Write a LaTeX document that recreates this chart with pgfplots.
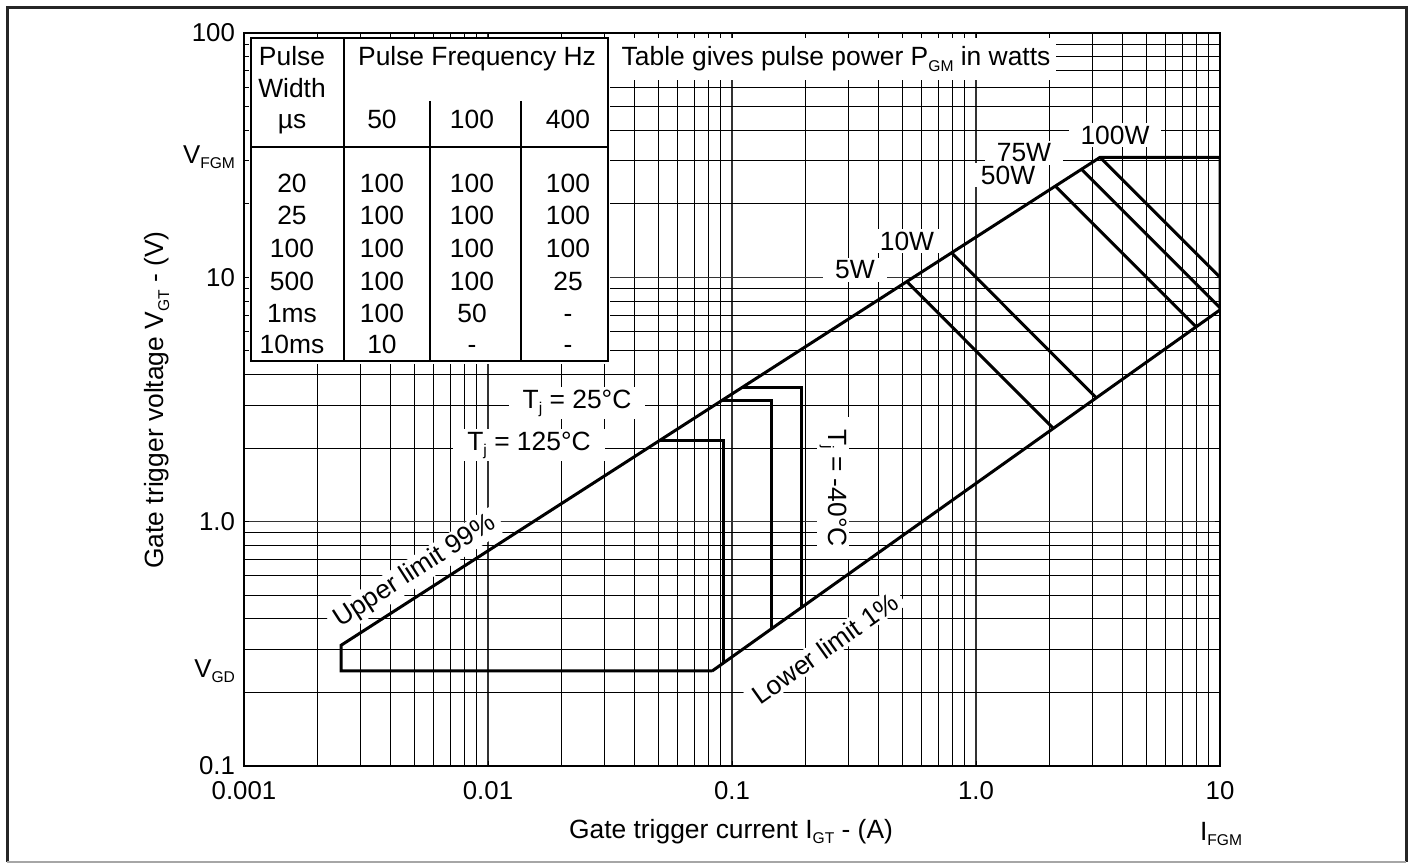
\documentclass[border=0pt]{standalone}
\usepackage{fontspec}
\setmainfont{Liberation Sans}
\usepackage{pgfplots}
\pgfplotsset{compat=1.18}
\newcommand\sub[1]{\raisebox{-2.6pt}{\fontsize{7.8}{9}\selectfont #1}}
\newcommand\fs{\fontsize{13.2}{15}\selectfont}
\newcommand\ft{\fontsize{12.9}{15}\selectfont}
\tikzset{
 curve/.style={black, line width=1.5pt, line join=miter, mark=none},
 lab/.style={fill=white, font=\fs, inner xsep=6pt, inner ysep=1.5pt},
}
\begin{document}
\begin{tikzpicture}
\begin{scope}[x=0.5pt,y=-0.5pt,shift={(-122pt,383pt)}]
\useasboundingbox (0,0) rectangle (1417,863);
\end{scope}
\begin{axis}[at={(0,0)}, anchor=south west, scale only axis, width=488pt, height=366.5pt,
 xmode=log, ymode=log, xmin=0.001, xmax=10, ymin=0.1, ymax=100,
 xtick={0.001,0.01,0.1,1,10}, xticklabels={0.001,0.01,0.1,1.0,10},
 ytick={0.1,1,10,100}, yticklabels={0.1,1.0,10,100},
 minor xtick={0.002,0.003,0.004,0.005,0.006,0.007,0.008,0.009,0.02,0.03,0.04,0.05,0.06,0.07,0.08,0.09,0.2,0.3,0.4,0.5,0.6,0.7,0.8,0.9,2,3,4,5,6,7,8,9},
 minor ytick={0.2,0.3,0.4,0.5,0.6,0.7,0.8,0.9,2,3,4,5,6,7,8,9,20,30,40,50,60,70,80,90},
 extra y ticks={31,0.245}, extra y tick labels={V\sub{FGM},V\sub{GD}},
 extra y tick style={grid=none, tick style={draw=none}},
 grid=both,
 major grid style={black!80, line width=0.8pt},
 minor grid style={black, line width=0.5pt},
 tick style={black, line width=0.5pt}, major tick length=2.5pt, minor tick length=2.5pt,
 tick label style={font=\ft},
 xticklabel style={yshift=-4pt},
 yticklabel style={xshift=-1pt},
 axis line style={black, line width=0.8pt},
]
% labels first (white boxes hide the grid)
\node[lab] at (rel axis cs:0.626,0.6767) {5W};
\node[lab] at (rel axis cs:0.6793,0.7162) {10W};
\node[lab] at (rel axis cs:0.7828,0.8063) {50W};
\node[lab] at (rel axis cs:0.7992,0.8363) {75W};
\node[lab] at (rel axis cs:0.8924,0.8609) {100W};
\node[lab, inner xsep=7pt] at (rel axis cs:0.3412,0.4952) {T\sub{j} = 25°C};
\node[lab, inner xsep=7pt] at (rel axis cs:0.292,0.4379) {T\sub{j} = 125°C};
\node[lab, rotate=-90, inner xsep=6pt] at (rel axis cs:0.6035,0.3793) {T\sub{j} = -40°C};
\node[lab, rotate=32.7, inner xsep=3pt, inner ysep=1pt] at (rel axis cs:0.1752,0.2653) {Upper limit 99\%};
\node[lab, rotate=35.4, inner xsep=3pt, inner ysep=1pt] at (rel axis cs:0.5953,0.1603) {Lower limit 1\%};
% gate characteristic area
\addplot[curve] coordinates {(0.083,0.245) (0.0025,0.245) (0.0025,0.312) (3.226,31) (10,31) (10,7.36) (0.083,0.245)};
% temperature limits
\addplot[curve] coordinates {(0.0502,2.14) (0.092,2.14) (0.092,0.2636)};
\addplot[curve] coordinates {(0.0903,3.12) (0.145,3.12) (0.145,0.3641)};
\addplot[curve] coordinates {(0.1104,3.55) (0.193,3.55) (0.193,0.4462)};
% pulse power lines
\addplot[curve] coordinates {(0.5205,9.606) (2.075,2.409)};
\addplot[curve] coordinates {(0.7938,12.598) (3.112,3.213)};
\addplot[curve] coordinates {(2.116,23.63) (7.977,6.268)};
\addplot[curve] coordinates {(2.708,27.70) (10,7.5)};
\addplot[curve] coordinates {(3.226,31) (10,10)};
\end{axis}
\begin{scope}[x=0.5pt,y=-0.5pt,shift={(-122pt,383pt)}, every node/.style={font=\fs, inner sep=0pt}]
% frame
\draw[line width=1.5pt, black!85] (7.5,862) -- (7.5,8) -- (1406,8) -- (1406,862);
\draw[line width=0.8pt, gray!70] (7.5,862) -- (1406,862);
% table
\fill[white] (249,38) rectangle (1056,80);
\fill[white] (249,38) rectangle (610,364);
\draw[line width=0.8pt] (251,38) rectangle (608,361);
\draw[line width=0.8pt] (344,38) -- (344,361);
\draw[line width=0.8pt] (430,101) -- (430,361);
\draw[line width=0.8pt] (521,101) -- (521,361);
\draw[line width=0.8pt] (251,147) -- (608,147);
\node[anchor=base] at (292,66) {Pulse};
\node[anchor=base] at (292,98) {Width};
\node[anchor=base] at (292,129) {µs};
\node[anchor=base] at (477,66) {Pulse Frequency Hz};
\node[anchor=base] at (382,129) {50};
\node[anchor=base] at (472,129) {100};
\node[anchor=base] at (568,129) {400};
\node[anchor=base] at (292,193) {20};
\node[anchor=base] at (292,225) {25};
\node[anchor=base] at (292,257) {100};
\node[anchor=base] at (292,290) {500};
\node[anchor=base] at (292,322) {1ms};
\node[anchor=base] at (292,353) {10ms};
\node[anchor=base] at (382,193) {100};
\node[anchor=base] at (382,225) {100};
\node[anchor=base] at (382,257) {100};
\node[anchor=base] at (382,290) {100};
\node[anchor=base] at (382,322) {100};
\node[anchor=base] at (382,353) {10};
\node[anchor=base] at (472,193) {100};
\node[anchor=base] at (472,225) {100};
\node[anchor=base] at (472,257) {100};
\node[anchor=base] at (472,290) {100};
\node[anchor=base] at (472,322) {50};
\node[anchor=base] at (472,353) {-};
\node[anchor=base] at (568,193) {100};
\node[anchor=base] at (568,225) {100};
\node[anchor=base] at (568,257) {100};
\node[anchor=base] at (568,290) {25};
\node[anchor=base] at (568,322) {-};
\node[anchor=base] at (568,353) {-};
\node[anchor=base] at (836,66) {Table gives pulse power P\sub{GM} in watts};
% axis labels
\node[anchor=base] at (731,838) {Gate trigger current I\sub{GT} - (A)};
\node[anchor=base] at (1221,840) {I\sub{FGM}};
\node[anchor=base, rotate=90] at (164,400) {Gate trigger voltage V\sub{GT} - (V)};
\end{scope}
\end{tikzpicture}
\end{document}
